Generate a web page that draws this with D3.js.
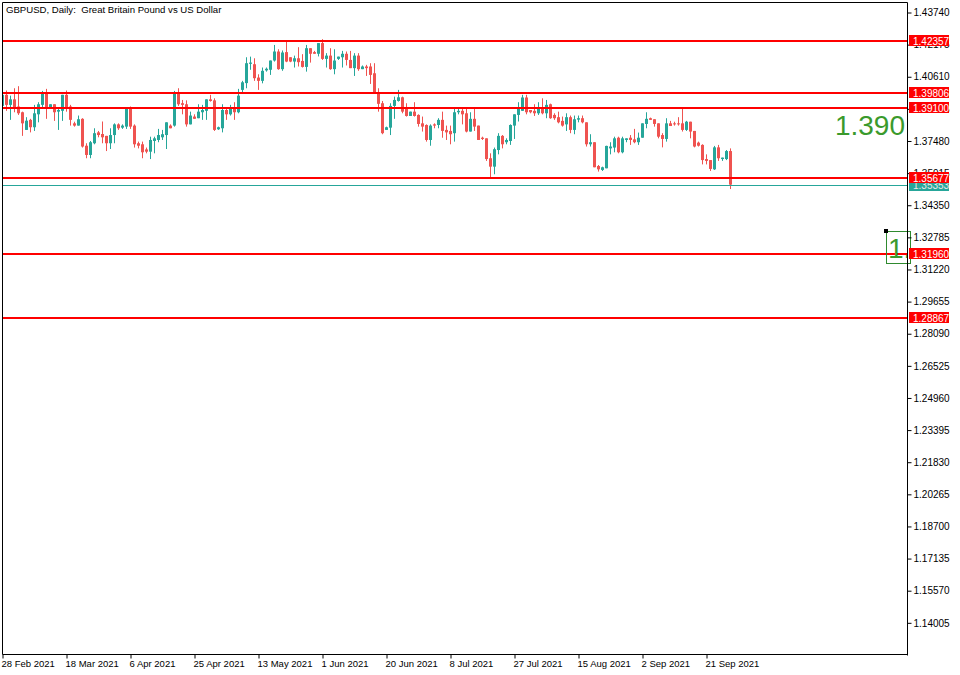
<!DOCTYPE html>
<html>
<head>
<meta charset="utf-8">
<script src="https://cdn.jsdelivr.net/npm/d3@7"></script>
<style>
  html, body { margin: 0; padding: 0; background: #ffffff; }
  svg { display: block; }
  text { font-family: "Liberation Sans", Arial, sans-serif; }
</style>
</head>
<body>
<svg id="chart" width="960" height="675"></svg>
<script>
// ---------------- DATA ----------------
const title = "GBPUSD, Daily:  Great Britain Pound vs US Dollar";

const opens = [
1.3919,1.3973,1.3924,1.3951,1.3916,1.3888,1.3802,1.3851,1.3815,1.3878,
1.3924,1.3986,1.3908,1.3927,1.3891,1.3895,1.3973,1.3916,1.3834,1.3823,
1.3856,1.3725,1.3680,1.3737,1.3790,1.3782,1.3773,1.3737,1.3777,1.3829,
1.3813,1.3818,1.3908,1.3823,1.3737,1.3732,1.3707,1.3696,1.3748,1.3753,
1.3766,1.3777,1.3823,1.3823,1.3986,1.3932,1.3927,1.3829,1.3867,1.3859,
1.3888,1.3895,1.3951,1.3946,1.3805,1.3810,1.3899,1.3878,1.3908,1.3888,
1.3997,1.4030,1.4124,1.4122,1.4057,1.4041,1.4092,1.4095,1.4140,1.4184,
1.4098,1.4181,1.4156,1.4135,1.4151,1.4138,1.4109,1.4200,1.4181,1.4173,
1.4225,1.4148,1.4164,1.4098,1.4148,1.4156,1.4173,1.4143,1.4103,1.4164,
1.4098,1.4111,1.4111,1.4078,1.3986,1.3932,1.3802,1.3813,1.3919,1.3943,
1.3961,1.3908,1.3870,1.3891,1.3875,1.3834,1.3826,1.3753,1.3829,1.3826,
1.3851,1.3802,1.3797,1.3786,1.3888,1.3895,1.3883,1.3794,1.3856,1.3823,
1.3764,1.3761,1.3664,1.3623,1.3704,1.3773,1.3742,1.3748,1.3823,1.3875,
1.3895,1.3960,1.3899,1.3895,1.3883,1.3908,1.3883,1.3927,1.3875,1.3864,
1.3846,1.3829,1.3864,1.3802,1.3852,1.3859,1.3839,1.3732,1.3742,1.3626,
1.3607,1.3615,1.3712,1.3716,1.3764,1.3693,1.3753,1.3764,1.3756,1.3742,
1.3764,1.3831,1.3859,1.3854,1.3834,1.3777,1.3758,1.3834,1.3834,1.3834,
1.3834,1.3802,1.3842,1.3797,1.3740,1.3729,1.3660,1.3655,1.3610,1.3717,
1.3660,1.3660,1.3699
];
const highs = [
1.3981,1.3994,1.3969,1.4005,1.4015,1.3891,1.3864,1.3856,1.3924,1.3937,
1.3992,1.4002,1.3927,1.3927,1.3908,1.3973,1.3994,1.3924,1.3842,1.3872,
1.3859,1.3737,1.3748,1.3810,1.3797,1.3843,1.3773,1.3810,1.3834,1.3834,
1.3829,1.3908,1.3916,1.3829,1.3745,1.3745,1.3716,1.3769,1.3769,1.3807,
1.3802,1.3839,1.3829,1.3992,1.4005,1.3948,1.3946,1.3891,1.3878,1.3927,
1.3924,1.3951,1.3973,1.3956,1.3818,1.3927,1.3911,1.3924,1.3937,1.4002,
1.4041,1.4156,1.4159,1.4151,1.4073,1.4106,1.4106,1.4140,1.4216,1.4195,
1.4189,1.4233,1.4156,1.4164,1.4205,1.4171,1.4216,1.4200,1.4187,1.4225,
1.4244,1.4176,1.4200,1.4195,1.4159,1.4187,1.4184,1.4187,1.4176,1.4176,
1.4116,1.4119,1.4127,1.4127,1.4005,1.3943,1.3818,1.3932,1.3964,1.3997,
1.3964,1.3932,1.3891,1.3937,1.3878,1.3867,1.3829,1.3829,1.3834,1.3859,
1.3891,1.3823,1.3823,1.3904,1.3904,1.3904,1.3904,1.3888,1.3904,1.3823,
1.3769,1.3761,1.3688,1.3716,1.3786,1.3777,1.3761,1.3829,1.3878,1.3937,
1.3973,1.3973,1.3899,1.3927,1.3937,1.3956,1.3948,1.3930,1.3883,1.3891,
1.3867,1.3883,1.3872,1.3872,1.3872,1.3872,1.3839,1.3781,1.3742,1.3631,
1.3623,1.3725,1.3742,1.3769,1.3769,1.3769,1.3761,1.3777,1.3807,1.3789,
1.3834,1.3888,1.3862,1.3854,1.3834,1.3786,1.3859,1.3846,1.3842,1.3864,
1.3911,1.3846,1.3842,1.3797,1.3745,1.3732,1.3683,1.3655,1.3724,1.3729,
1.3667,1.3704,1.3712
];
const lows = [
1.3916,1.3895,1.3851,1.3888,1.3875,1.3773,1.3802,1.3790,1.3797,1.3839,
1.3904,1.3856,1.3908,1.3846,1.3802,1.3846,1.3891,1.3823,1.3818,1.3823,
1.3716,1.3664,1.3664,1.3732,1.3766,1.3737,1.3699,1.3709,1.3737,1.3802,
1.3807,1.3807,1.3807,1.3716,1.3712,1.3664,1.3688,1.3660,1.3688,1.3742,
1.3753,1.3709,1.3810,1.3818,1.3919,1.3878,1.3818,1.3829,1.3856,1.3859,
1.3851,1.3851,1.3940,1.3797,1.3802,1.3790,1.3851,1.3872,1.3851,1.3883,
1.3986,1.4005,1.4095,1.4041,1.3997,1.4029,1.4086,1.4070,1.4135,1.4095,
1.4090,1.4132,1.4132,1.4106,1.4111,1.4106,1.4086,1.4130,1.4173,1.4160,
1.4143,1.4106,1.4095,1.4073,1.4143,1.4106,1.4116,1.4103,1.4065,1.4090,
1.4098,1.4065,1.4026,1.3981,1.3891,1.3781,1.3802,1.3777,1.3856,1.3940,
1.3883,1.3867,1.3870,1.3867,1.3818,1.3794,1.3745,1.3725,1.3810,1.3810,
1.3764,1.3753,1.3732,1.3745,1.3878,1.3829,1.3790,1.3794,1.3797,1.3753,
1.3753,1.3651,1.3569,1.3586,1.3683,1.3712,1.3732,1.3729,1.3758,1.3843,
1.3895,1.3878,1.3883,1.3870,1.3875,1.3878,1.3859,1.3856,1.3851,1.3834,
1.3818,1.3797,1.3786,1.3781,1.3839,1.3834,1.3721,1.3721,1.3620,1.3599,
1.3602,1.3615,1.3683,1.3693,1.3688,1.3688,1.3742,1.3729,1.3737,1.3729,
1.3764,1.3810,1.3851,1.3818,1.3761,1.3717,1.3745,1.3821,1.3823,1.3823,
1.3794,1.3797,1.3761,1.3717,1.3721,1.3634,1.3634,1.3602,1.3607,1.3651,
1.3651,1.3655,1.3514
];
const closes = [
1.3973,1.3924,1.3951,1.3908,1.3883,1.3834,1.3847,1.3815,1.3883,1.3927,
1.3986,1.3908,1.3927,1.3888,1.3899,1.3973,1.3908,1.3851,1.3823,1.3854,
1.3721,1.3680,1.3742,1.3786,1.3777,1.3766,1.3737,1.3777,1.3829,1.3810,
1.3823,1.3908,1.3818,1.3732,1.3725,1.3693,1.3696,1.3753,1.3761,1.3777,
1.3781,1.3839,1.3810,1.3986,1.3927,1.3924,1.3829,1.3872,1.3856,1.3891,
1.3899,1.3951,1.3943,1.3802,1.3815,1.3899,1.3878,1.3904,1.3888,1.3969,
1.4034,1.4127,1.4130,1.4054,1.4041,1.4090,1.4100,1.4140,1.4184,1.4098,
1.4179,1.4135,1.4135,1.4151,1.4132,1.4109,1.4200,1.4173,1.4173,1.4225,
1.4148,1.4164,1.4098,1.4140,1.4159,1.4173,1.4143,1.4103,1.4164,1.4098,
1.4111,1.4103,1.4070,1.3981,1.3929,1.3786,1.3815,1.3919,1.3948,1.3961,
1.3891,1.3870,1.3891,1.3870,1.3831,1.3818,1.3753,1.3823,1.3823,1.3851,
1.3797,1.3790,1.3781,1.3888,1.3895,1.3878,1.3794,1.3856,1.3818,1.3753,
1.3758,1.3660,1.3623,1.3708,1.3773,1.3732,1.3753,1.3826,1.3878,1.3908,
1.3960,1.3888,1.3888,1.3883,1.3908,1.3883,1.3924,1.3859,1.3859,1.3839,
1.3823,1.3864,1.3802,1.3854,1.3859,1.3839,1.3732,1.3742,1.3620,1.3610,
1.3620,1.3724,1.3721,1.3761,1.3693,1.3761,1.3761,1.3753,1.3742,1.3764,
1.3834,1.3856,1.3851,1.3831,1.3769,1.3758,1.3834,1.3821,1.3829,1.3829,
1.3802,1.3842,1.3794,1.3721,1.3725,1.3655,1.3651,1.3612,1.3717,1.3664,
1.3667,1.3699,1.35353
];

const levelPrices = [1.42357, 1.39806, 1.39100, 1.35677, 1.31960, 1.28867];
const bidPrice = 1.35353;
const priceTicks = [1.43740,1.42175,1.40610,1.39045,1.37480,1.35915,1.34350,1.32785,1.31220,
                    1.29655,1.28090,1.26525,1.24960,1.23395,1.21830,1.20265,1.18700,1.17135,
                    1.15570,1.14005];
const dateLabels = ["28 Feb 2021","18 Mar 2021","6 Apr 2021","25 Apr 2021","13 May 2021",
                    "1 Jun 2021","20 Jun 2021","8 Jul 2021","27 Jul 2021","15 Aug 2021",
                    "2 Sep 2021","21 Sep 2021"];
const dateBars = [0,16,32,48,64,80,96,112,128,144,160,176];
const bigLabel = "1.390";
const boxLabel = "1.";

// ---------------- DRAW ----------------
const svg = d3.select("#chart");
const W = 960, H = 675;
const L = 2.5, R = 907.5, T = 2.5, B = 654.5;

const x = d3.scaleLinear().domain([0, 226]).range([2.5, 906.5]);
const y = d3.scaleLinear().domain([1.12437, 1.44252]).range([655, 2]);

const UP = "#26a69a", DOWN = "#ef5350", LEVEL = "#ff0000";

svg.append("rect").attr("width", W).attr("height", H).attr("fill", "#ffffff");

svg.append("defs").append("clipPath").attr("id", "plot")
  .append("rect").attr("x", 3).attr("y", 3).attr("width", R - 3).attr("height", B - 3);

const plot = svg.append("g").attr("clip-path", "url(#plot)");

// title (keep double space)
svg.append("text").attr("x", 6).attr("y", 13).attr("font-size", 9.6).attr("fill", "#000")
  .style("white-space", "pre").attr("xml:space", "preserve")
  .text(title);

// candles
const bars = d3.range(closes.length).map(i => ({i, o: opens[i], h: highs[i], l: lows[i], c: closes[i]}));
const cg = plot.append("g");
cg.selectAll("rect.wick").data(bars).join("rect").attr("class", "wick")
  .attr("x", d => x(d.i) - 0.5).attr("width", 1)
  .attr("y", d => y(d.h)).attr("height", d => Math.max(1, y(d.l) - y(d.h)))
  .attr("fill", d => d.c >= d.o ? UP : DOWN);
cg.selectAll("rect.body").data(bars).join("rect").attr("class", "body")
  .attr("x", d => x(d.i) - 1.5).attr("width", 3)
  .attr("y", d => y(Math.max(d.o, d.c)))
  .attr("height", d => Math.max(1, Math.abs(y(d.o) - y(d.c))))
  .attr("fill", d => d.c >= d.o ? UP : DOWN);

// bid line
plot.append("line").attr("x1", 3).attr("x2", R).attr("y1", Math.round(y(bidPrice)) + 0.5)
  .attr("y2", Math.round(y(bidPrice)) + 0.5).attr("stroke", UP).attr("stroke-width", 1);

// level lines
plot.selectAll("line.level").data(levelPrices).join("line").attr("class", "level")
  .attr("x1", 3).attr("x2", R)
  .attr("y1", d => Math.round(y(d))).attr("y2", d => Math.round(y(d)))
  .attr("stroke", LEVEL).attr("stroke-width", 2);

// big price text
svg.append("text").attr("x", 905).attr("y", 135).attr("text-anchor", "end")
  .attr("font-size", 28).attr("fill", "#3a9a2c").text(bigLabel);

// green box with clipped label
svg.append("clipPath").attr("id", "boxclip").append("rect")
  .attr("x", 886).attr("y", 231).attr("width", R - 886).attr("height", 33);
svg.append("text").attr("x", 888).attr("y", 258).attr("font-size", 28)
  .attr("fill", "#3a9a2c").attr("clip-path", "url(#boxclip)").text(boxLabel);
svg.append("rect").attr("x", 886.5).attr("y", 231.5).attr("width", 24).attr("height", 32)
  .attr("fill", "none").attr("stroke", "#2f8a2f").attr("stroke-width", 1);
svg.append("rect").attr("x", 884).attr("y", 229).attr("width", 4).attr("height", 4).attr("fill", "#000");

// right price axis
const yAxis = d3.axisRight(y).tickValues(priceTicks).tickFormat(d3.format(".5f"))
  .tickSize(4).tickPadding(2).tickSizeOuter(0);
const ya = svg.append("g").attr("transform", `translate(${R},0)`).call(yAxis);
ya.select(".domain").remove();
ya.selectAll("line").attr("stroke", "#000");
ya.selectAll("text").attr("font-size", 10).attr("fill", "#000")
  .attr("font-family", "'Liberation Sans', Arial, sans-serif");

// bid label (under level labels)
const bidY = Math.round(y(bidPrice));
svg.append("rect").attr("x", 909).attr("y", bidY - 5).attr("width", 40).attr("height", 11).attr("fill", UP);
svg.append("text").attr("x", 913).attr("y", bidY + 4).attr("font-size", 10).attr("fill", "#e8e8e8")
  .text(d3.format(".5f")(bidPrice));

// level labels
const lg = svg.append("g");
lg.selectAll("rect").data(levelPrices).join("rect")
  .attr("x", 909).attr("y", d => Math.round(y(d)) - 6).attr("width", 40).attr("height", 11)
  .attr("fill", LEVEL);
lg.selectAll("text").data(levelPrices).join("text")
  .attr("x", 913).attr("y", d => Math.round(y(d)) + 3.5).attr("font-size", 10).attr("fill", "#fff")
  .text(d => d3.format(".5f")(d));

// frame
svg.append("line").attr("x1", L).attr("x2", L).attr("y1", T).attr("y2", B).attr("stroke", "#000");
svg.append("line").attr("x1", L).attr("x2", R).attr("y1", T).attr("y2", T).attr("stroke", "#000");
svg.append("line").attr("x1", L).attr("x2", R).attr("y1", B).attr("y2", B).attr("stroke", "#000");
svg.append("line").attr("x1", R).attr("x2", R).attr("y1", T).attr("y2", B + 1).attr("stroke", "#000");

// bottom date axis
const xAxis = d3.axisBottom(x).tickValues(dateBars).tickFormat((d, k) => dateLabels[k])
  .tickSize(4).tickPadding(2).tickSizeOuter(0);
const xa = svg.append("g").attr("transform", `translate(0,${B})`).call(xAxis);
xa.select(".domain").remove();
xa.selectAll("line").attr("stroke", "#000");
xa.selectAll("text").attr("text-anchor", "start").attr("dx", "-1.5").attr("font-size", 9.5)
  .attr("fill", "#000").attr("font-family", "'Liberation Sans', Arial, sans-serif");
</script>
</body>
</html>
